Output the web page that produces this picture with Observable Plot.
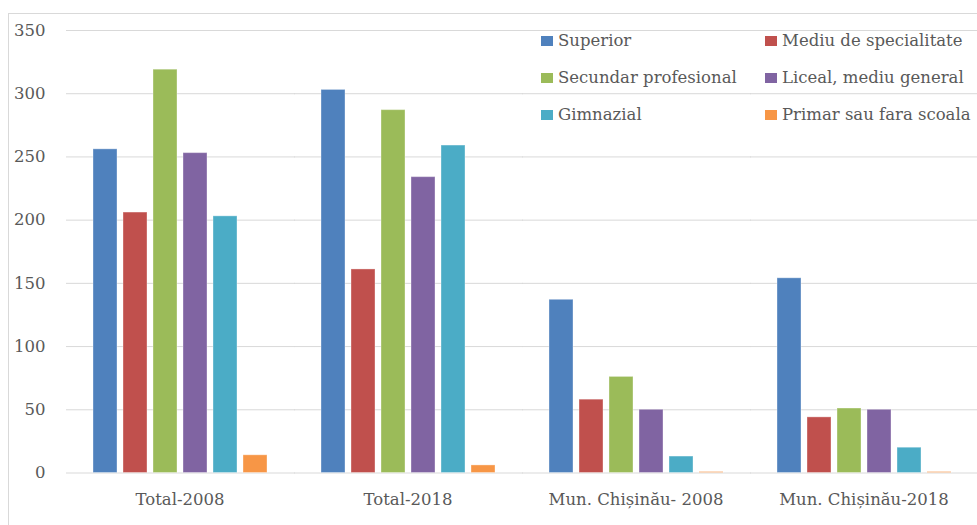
<!DOCTYPE html>
<html>
<head>
<meta charset="utf-8">
<script src="https://cdn.jsdelivr.net/npm/d3@7"></script>
<script src="https://cdn.jsdelivr.net/npm/@observablehq/plot@0.6"></script>
<style>
  body { margin: 0; background: #fff; }
  #wrap { position: relative; width: 977px; height: 525px; overflow: hidden; font-family: "DejaVu Serif", serif; color: #595959; }
  #frame { position: absolute; left: 8px; top: 13px; width: 1200px; height: 800px; border: 1px solid #d9d9d9; box-sizing: border-box; }
  #chart { position: absolute; left: 0; top: 0; }
  #legend { position: absolute; left: 541px; top: 22px; display: grid; grid-template-columns: 224px 224px; grid-auto-rows: 37px; font-size: 16.5px; }
  .item { display: flex; align-items: center; white-space: nowrap; }
  .sw { width: 12px; height: 10px; margin-right: 5px; flex: none; }
</style>
</head>
<body>
<div id="wrap">
  <div id="frame"></div>
  <div id="chart"></div>
  <div id="legend"></div>
</div>
<script>
const groups = ["Total-2008", "Total-2018", "Mun. Chișinău- 2008", "Mun. Chișinău-2018"];
const categories = ["Superior", "Mediu de specialitate", "Secundar profesional", "Liceal, mediu general", "Gimnazial", "Primar sau fara scoala"];
const colors = ["#4F81BD", "#C0504D", "#9BBB59", "#8064A2", "#4BACC6", "#F79646"];
const superior   = [256, 303, 137, 154];
const mediu      = [206, 161, 58, 44];
const secundar   = [319, 287, 76, 51];
const liceal     = [253, 234, 50, 50];
const gimnazial  = [203, 259, 13, 20];
const primar     = [14, 6, 0.8, 0.8];
const yTicks = [0, 50, 100, 150, 200, 250, 300, 350];

const series = [superior, mediu, secundar, liceal, gimnazial, primar];
const data = [];
groups.forEach((g, gi) => {
  categories.forEach((c, ci) => {
    data.push({group: g, category: c, value: series[ci][gi]});
  });
});

const chart = Plot.plot({
  width: 977,
  height: 525,
  marginLeft: 66,
  marginRight: 0,
  marginTop: 30,
  marginBottom: 52.5,
  style: {fontFamily: "DejaVu Serif, serif", fontSize: "16.5px", color: "#595959", background: "transparent"},
  fx: {domain: groups, paddingInner: 0.17, paddingOuter: 0.08, axis: "bottom", tickSize: 0, tickPadding: 20, label: null},
  x: {domain: categories, padding: 0.2, axis: null},
  y: {domain: [0, 350], ticks: yTicks, tickSize: 0, tickPadding: 40, label: null, grid: false},
  color: {domain: categories, range: colors},
  marks: [
    Plot.ruleY(yTicks, {stroke: "#d9d9d9", strokeWidth: 1, insetLeft: -19, insetRight: -21}),
    Plot.barY(data, {fx: "group", x: "category", y: "value", fill: "category", stroke: "white", strokeOpacity: 0.35, strokeWidth: 1})
  ]
});
document.getElementById("chart").appendChild(chart);

const legend = document.getElementById("legend");
categories.forEach((c, i) => {
  const item = document.createElement("div");
  item.className = "item";
  const sw = document.createElement("span");
  sw.className = "sw";
  sw.style.background = colors[i];
  const t = document.createElement("span");
  t.textContent = c;
  item.appendChild(sw);
  item.appendChild(t);
  legend.appendChild(item);
});
</script>
</body>
</html>
